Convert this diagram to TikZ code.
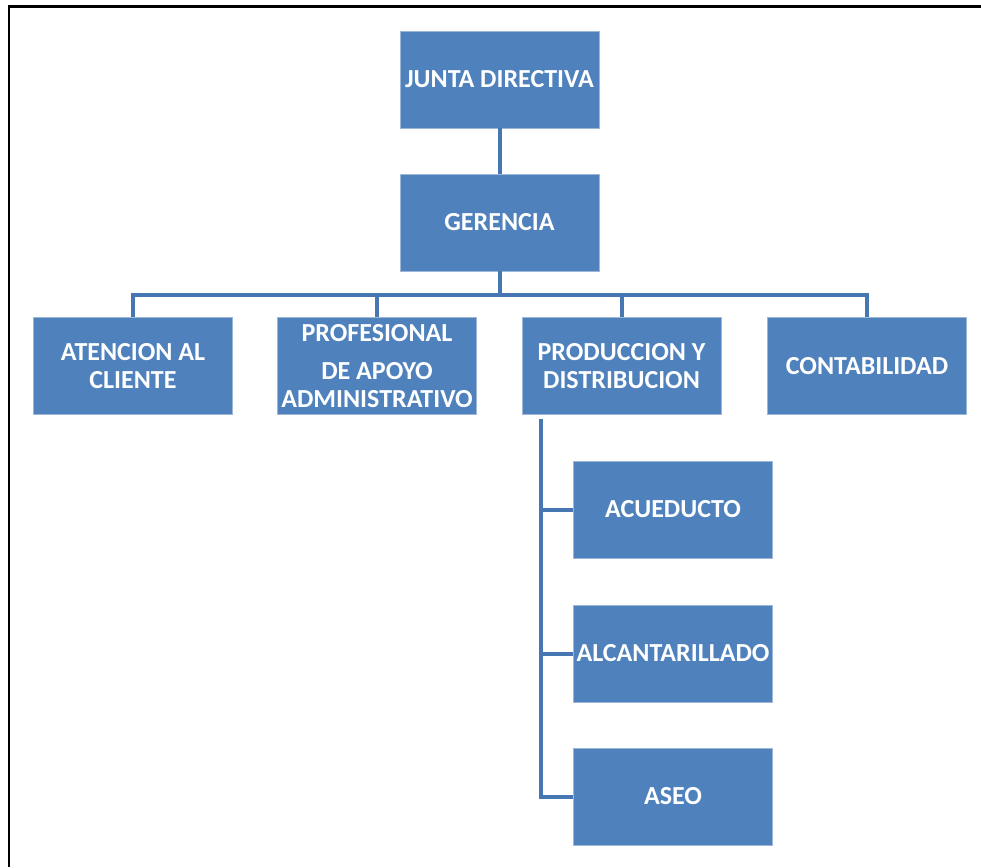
\documentclass[tikz,border=0pt]{standalone}
\usepackage{fontspec}
\setmainfont{Carlito}
\usepackage{xcolor}
\usetikzlibrary{arrows.meta}

\definecolor{boxblue}{HTML}{4F81BD}
\definecolor{boxedge}{HTML}{9DB7D9}
\definecolor{linkblue}{HTML}{4677B3}

\begin{document}
\begin{tikzpicture}[x=0.75pt, y=-0.75pt, unit/.style={rectangle, fill=boxblue, draw=boxedge, line width=0.4pt, minimum width=149pt, minimum height=72.75pt, inner sep=1pt, align=center, text=white, font=\fontsize{19.5}{21}\selectfont\bfseries}, link/.style={draw=linkblue, line width=3pt}]
  \useasboundingbox (0,0) rectangle (981,867);
  \draw[line width=2.2pt] (9,867) -- (9,6.5) -- (981,6.5);
  % cabeza
  \node[unit] (jd) at (499.5,79.5) {JUNTA DIRECTIVA};
  \node[unit] (ger) at (499.5,222.5) {GERENCIA};
  % segundo nivel
  \node[unit] (ate) at (133,366) {ATENCION AL\\CLIENTE};
  \node[unit] (pro) at (377,366) {PROFESIONAL\\[8pt]DE APOYO\\ADMINISTRATIVO};
  \node[unit] (prd) at (621.5,366) {PRODUCCION Y\\DISTRIBUCION};
  \node[unit] (con) at (867,366) {CONTABILIDAD};
  % servicios
  \node[unit] (acu) at (673,509.5) {ACUEDUCTO};
  \node[unit] (alc) at (673,653.5) {ALCANTARILLADO};
  \node[unit] (ase) at (673,796.5) {ASEO};
  \coordinate (bus) at (499.5,295);
  \coordinate (trunk) at (541,419);
  \draw[link] (jd) -- (ger);
  \draw[link] (ger) -- (bus);
  \foreach \n in {ate,pro,prd,con}
    \draw[link] (bus) -| (\n.north);
  \foreach \n in {acu,alc,ase}
    \draw[link] (trunk) |- (\n.west);
\end{tikzpicture}
\end{document}
